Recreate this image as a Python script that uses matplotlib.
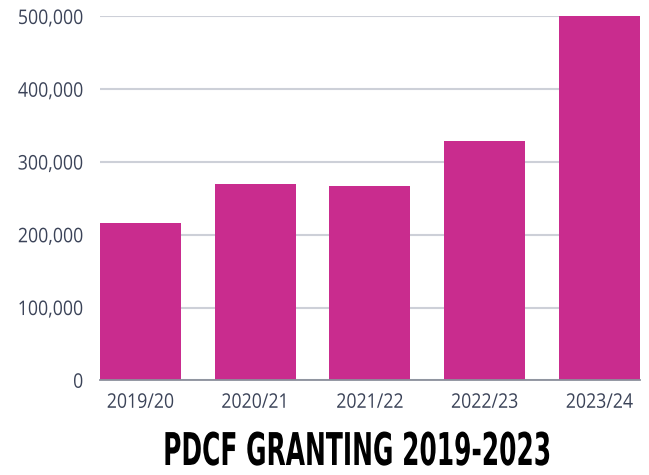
import matplotlib
matplotlib.use("Agg")
import matplotlib.pyplot as plt
from matplotlib.patheffects import AbstractPathEffect
from matplotlib.transforms import Affine2D
from matplotlib.ticker import FuncFormatter

# PDCF granting per year
years = ["2019/20", "2020/21", "2021/22", "2022/23", "2023/24"]
granted = [216000, 270000, 267000, 329000, 500000]
y_ticks = [0, 100000, 200000, 300000, 400000, 500000]

BAR = "#c92c8e"
INK = "#3b4358"
GRID = "#cdd0d8"
BASE = "#8b909c"


class Squeeze(AbstractPathEffect):
    """Rescale the glyphs (no condensed fonts installed)."""
    def __init__(self, sx, anchor="left", sy=1.0):
        super().__init__()
        self.sx, self.sy, self.anchor = sx, sy, anchor

    def draw_path(self, renderer, gc, tpath, affine, rgbFace=None):
        ext = tpath.get_extents()
        ax0 = {"left": 0, "right": ext.x1, "center": ext.x1 / 2}[self.anchor]
        pre = Affine2D().translate(-ax0, 0).scale(self.sx, self.sy).translate(ax0, 0)
        renderer.draw_path(gc, tpath, pre + affine, rgbFace)


fig = plt.figure(figsize=(6.49, 4.75), dpi=100, facecolor="white")
ax = fig.add_axes([0.1541, 0.1994, 0.832, 0.7659])

x = range(len(years))
ax.bar(x, granted, width=0.706, color=BAR, zorder=3)

ax.set_xlim(-0.353, len(years) - 1 + 0.353)
ax.set_ylim(0, 500000)
ax.set_yticks(y_ticks)
ax.yaxis.set_major_formatter(FuncFormatter(lambda v, _: f"{int(v):,}"))
ax.set_xticks(list(x))
ax.set_xticklabels(years)

ax.grid(axis="y", color=GRID, linewidth=1.5, zorder=0)
for side in ("top", "right", "left"):
    ax.spines[side].set_visible(False)
ax.spines["bottom"].set_color(BASE)
ax.spines["bottom"].set_linewidth(1.3)
ax.spines["bottom"].set_zorder(4)

ax.tick_params(axis="both", length=0, colors=INK, labelsize=14.5)
ax.tick_params(axis="y", pad=12)
ax.tick_params(axis="x", pad=9)
for lab in ax.get_yticklabels():
    lab.set_fontfamily("Open Sans")
    lab.set_path_effects([Squeeze(0.88, "right")])
for lab in ax.get_xticklabels():
    lab.set_fontfamily("Open Sans")
    lab.set_path_effects([Squeeze(0.88, "center")])

fig.text(358 / 649, 10 / 475, "PDCF GRANTING 2019-2023", ha="center", va="baseline",
         fontsize=26, fontweight="bold", family="DejaVu Sans", color="black",
         path_effects=[Squeeze(0.69, "center", sy=1.25)])

fig.savefig("out.png", dpi=100, facecolor="white")
